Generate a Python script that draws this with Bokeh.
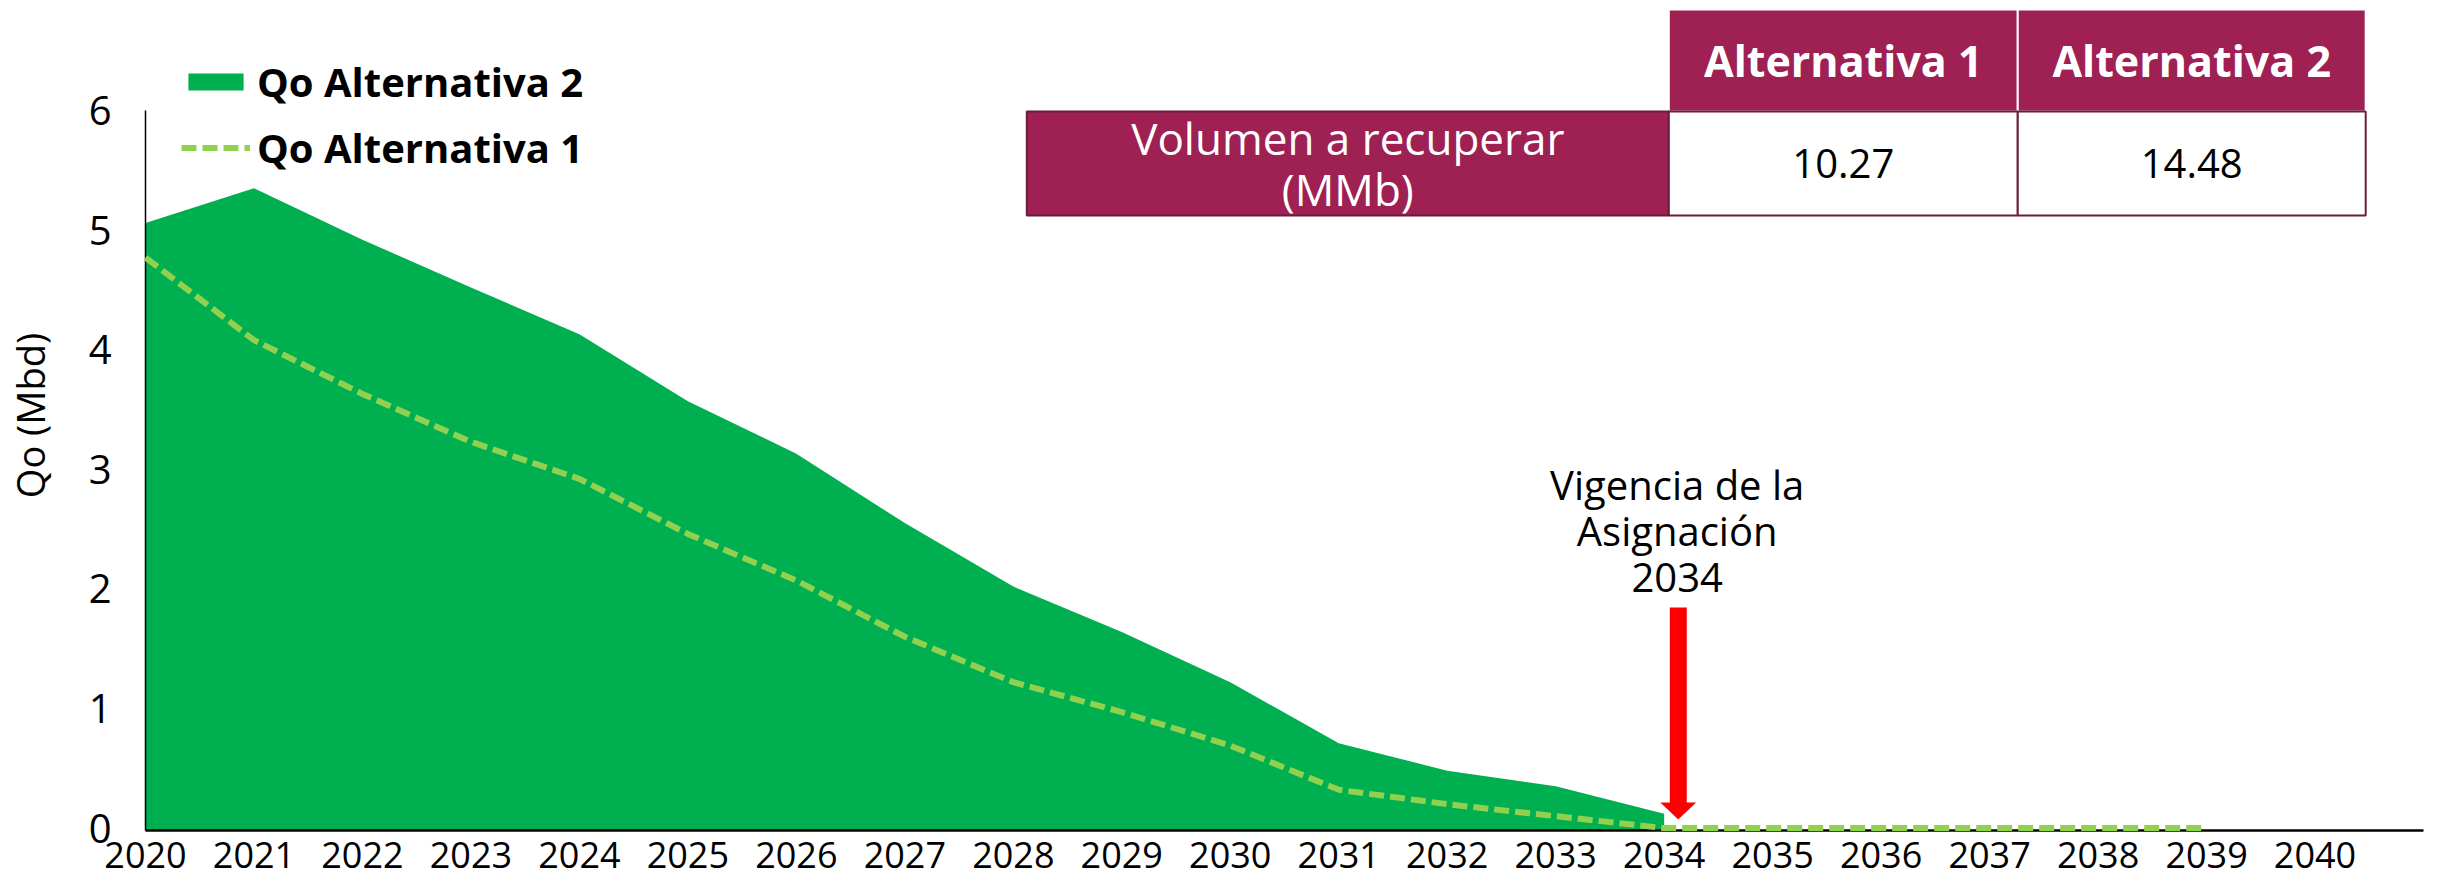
from bokeh.plotting import figure
from bokeh.models import FixedTicker, Legend, LegendItem
from bokeh.core.properties import value
from bokeh.embed import file_html
from bokeh.resources import INLINE

# ---------------- data ----------------
years = list(range(2020, 2041))
alt2_years = list(range(2020, 2035))
alt2 = [5.06, 5.35, 4.92, 4.52, 4.13, 3.57, 3.13, 2.55, 2.02, 1.64, 1.22, 0.71, 0.48, 0.35, 0.12]
alt1_years = list(range(2020, 2040))
alt1 = [4.77, 4.08, 3.63, 3.23, 2.92, 2.46, 2.07, 1.60, 1.22, 0.97, 0.69, 0.32, 0.20, 0.10,
        0.0, 0.0, 0.0, 0.0, 0.0, 0.0]
y_ticks = [0, 1, 2, 3, 4, 5, 6]
series_names = ["Qo Alternativa 2", "Qo Alternativa 1"]
table_cols = ["Alternativa 1", "Alternativa 2"]
table_row = "Volumen a recuperar\n(MMb)"
table_vals = ["10.27", "14.48"]
vigencia_year = 2034
vigencia_text = "Vigencia de la\nAsignación\n2034"

# ---------------- style / layout ----------------
GREEN = "#00B050"
LGREEN = "#92D050"
MAROON = "#9F2052"
DARK = "#6A1C38"
FONT = value("Open Sans")

W, H = 2431, 880
X0, X1 = 2020, 2041
FRAME_LEFT, FRAME_RIGHT = 146, 2431      # page px
CANVAS_TOP = -2                          # observed page y of the canvas top
BOTTOM_BORDER = 50
FRAME_H = H - BOTTOM_BORDER
FRAME_TOP = CANVAS_TOP
FRAME_BOTTOM = FRAME_TOP + FRAME_H       # page px
Y0 = -0.02
SIX_PAGE = 108                           # page y of value 6
PXU = (FRAME_BOTTOM - SIX_PAGE) / (6 - Y0)
Y1 = Y0 + FRAME_H / PXU
ZERO_PAGE = FRAME_BOTTOM + Y0 * PXU


def dx(px):
    return X0 + (px - FRAME_LEFT) * (X1 - X0) / (FRAME_RIGHT - FRAME_LEFT)


def dy(py):
    return (ZERO_PAGE - py) / PXU


p = figure(width=W, height=H, x_range=(X0, X1), y_range=(Y0, Y1),
           output_backend="svg", toolbar_location=None,
           min_border_left=FRAME_LEFT - 8, min_border_right=8,
           min_border_top=0, min_border_bottom=BOTTOM_BORDER)
p.outline_line_color = None
p.xgrid.visible = False
p.ygrid.visible = False
p.background_fill_color = "white"
p.border_fill_color = "white"

# series (area baseline sits on the x axis, i.e. the start of the y range)
r_area = p.varea(x=alt2_years, y1=Y0, y2=alt2, fill_color=GREEN)
r_line = p.line(alt1_years, alt1, line_color=LGREEN, line_width=6,
                line_dash="15 6", line_cap="butt", level="overlay")

legend = Legend(items=[LegendItem(label=series_names[0], renderers=[r_area]),
                       LegendItem(label=series_names[1], renderers=[r_line])],
                location=(36, 655), orientation="vertical",
                glyph_width=69, glyph_height=21, label_standoff=7,
                label_height=56, spacing=10, padding=0, margin=0,
                label_text_font="Open Sans", label_text_font_style="bold",
                label_text_font_size="40px", label_text_color="black",
                border_line_color=None, background_fill_alpha=0)
p.add_layout(legend)

# axes
p.yaxis.ticker = FixedTicker(ticks=y_ticks)
p.yaxis.bounds = (Y0, 6)
p.yaxis.axis_line_color = "black"
p.yaxis.axis_line_width = 1.5
p.yaxis.major_tick_line_color = None
p.yaxis.minor_tick_line_color = None
p.yaxis.major_tick_out = 0
p.yaxis.major_tick_in = 0
p.yaxis.major_label_standoff = 34
p.yaxis.major_label_text_font = "Open Sans"
p.yaxis.major_label_text_font_size = "40px"
p.yaxis.major_label_text_color = "black"
p.yaxis.axis_label = "Qo (Mbd)"
p.yaxis.axis_label_text_font = "Open Sans"
p.yaxis.axis_label_text_font_size = "38px"
p.yaxis.axis_label_text_font_style = "normal"
p.yaxis.axis_label_text_color = "black"
p.yaxis.axis_label_standoff = 30

p.xaxis.ticker = FixedTicker(ticks=years)
p.xaxis.axis_line_color = "black"
p.xaxis.axis_line_width = 2.5
p.xaxis.major_tick_line_color = None
p.xaxis.minor_tick_line_color = None
p.xaxis.major_tick_out = 0
p.xaxis.major_tick_in = 0
p.xaxis.major_label_standoff = 11
p.xaxis.major_label_text_font = "Open Sans"
p.xaxis.major_label_text_font_size = "36px"
p.xaxis.major_label_text_color = "black"

# table (top right)
cx = [dx(1030), dx(1674), dx(2024), dx(2373)]
ty = [dy(7), dy(109), dy(213)]
p.quad(left=[cx[1], cx[2]], right=[cx[2], cx[3]], top=ty[0], bottom=ty[1],
       fill_color=MAROON, line_color="white", line_width=2)
p.quad(left=[cx[0]], right=[cx[1]], top=ty[1], bottom=ty[2],
       fill_color=MAROON, line_color=DARK, line_width=2)
p.quad(left=[cx[1], cx[2]], right=[cx[2], cx[3]], top=ty[1], bottom=ty[2],
       fill_color="white", line_color=DARK, line_width=2)
p.text(x=[(cx[1] + cx[2]) / 2, (cx[2] + cx[3]) / 2], y=[(ty[0] + ty[1]) / 2] * 2,
       text=table_cols, text_font=FONT, text_font_style="bold", text_font_size="43px",
       text_color="white", text_align="center", text_baseline="middle")
p.text(x=[(cx[0] + cx[1]) / 2], y=[(ty[1] + ty[2]) / 2], text=[table_row],
       text_font=FONT, text_font_size="44px", text_color="white",
       text_align="center", text_baseline="middle", text_line_height=0.85)
p.text(x=[(cx[1] + cx[2]) / 2, (cx[2] + cx[3]) / 2], y=[(ty[1] + ty[2]) / 2] * 2,
       text=table_vals, text_font=FONT, text_font_size="40px", text_color="black",
       text_align="center", text_baseline="middle")

# vigencia annotation + arrow
ax = vigencia_year + 0.13
half_shaft = 8.5 * (X1 - X0) / (FRAME_RIGHT - FRAME_LEFT)
half_head = 18 * (X1 - X0) / (FRAME_RIGHT - FRAME_LEFT)
p.quad(left=[ax - half_shaft], right=[ax + half_shaft], top=dy(605), bottom=dy(801),
       fill_color="#FF0000", line_color=None)
p.patch(x=[ax - half_head, ax + half_head, ax], y=[dy(800), dy(800), dy(817)],
        fill_color="#FF0000", line_color=None)
p.text(x=[vigencia_year + 0.12], y=[dy(528)], text=[vigencia_text],
       text_font=FONT, text_font_size="40px", text_color="black",
       text_align="center", text_baseline="middle", text_line_height=0.83)

open("out.html", "w").write(file_html(p, INLINE))
